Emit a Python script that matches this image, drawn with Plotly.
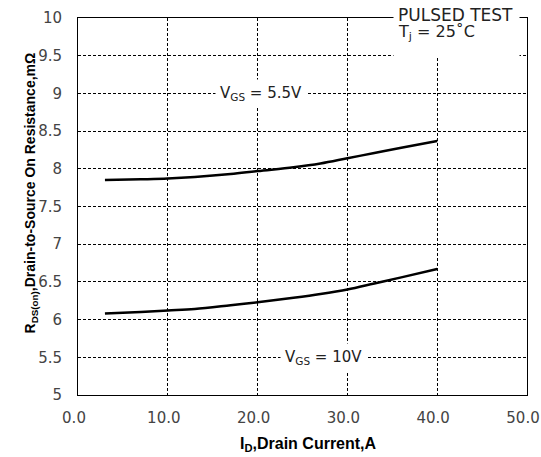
import plotly.graph_objects as go

# Data
id_55 = [3, 7, 10, 13, 17, 20, 24, 27, 30, 33, 36, 40]
r_55 = [7.85, 7.86, 7.87, 7.89, 7.93, 7.97, 8.02, 8.07, 8.14, 8.21, 8.28, 8.37]
id_10 = [3, 7, 10, 13, 17, 20, 24, 27, 30, 33, 36, 40]
r_10 = [6.08, 6.10, 6.12, 6.14, 6.19, 6.23, 6.29, 6.34, 6.40, 6.48, 6.56, 6.67]

x_ticks = [0, 10, 20, 30, 40, 50]
y_ticks = [5, 5.5, 6, 6.5, 7, 7.5, 8, 8.5, 9, 9.5, 10]

FONT = "DejaVu Sans, Verdana, sans-serif"
BOLD = "Liberation Sans, Arial, sans-serif"

fig = go.Figure()
for xs, ys in [(id_55, r_55), (id_10, r_10)]:
    fig.add_trace(go.Scatter(x=xs, y=ys, mode="lines",
                             line=dict(color="black", width=2.5, shape="spline"),
                             showlegend=False, hoverinfo="skip"))

fig.update_layout(
    width=541, height=457,
    margin=dict(l=78, r=14, t=18, b=62),
    paper_bgcolor="white", plot_bgcolor="white",
    font=dict(family=FONT, size=15, color="#333"),
)
axis_common = dict(showgrid=True, gridcolor="black", gridwidth=1, griddash="3px,2px",
                   showline=True, linecolor="black", linewidth=1, mirror=True,
                   ticks="outside", tickcolor="rgba(0,0,0,0)", zeroline=False,
                   automargin=False, ticklabeloverflow="allow",
                   tickfont=dict(family=FONT, size=15, color="#444"))
fig.update_xaxes(range=[0, 50], tickvals=x_ticks, tickformat=".1f", ticklen=9,
                 ticklabelshift=-4, **axis_common)
fig.update_yaxes(range=[5, 10], tickvals=y_ticks, ticklen=12, **axis_common)

ann = [
    dict(x=20.4, y=9.0, xref="x", yref="y", text="V<sub>GS</sub> = 5.5V",
         showarrow=False, bgcolor="white", font=dict(size=15, color="#222"),
         borderpad=4),
    dict(x=27.3, y=5.5, xref="x", yref="y", text="V<sub>GS</sub> = 10V",
         showarrow=False, bgcolor="white", font=dict(size=15, color="#222"),
         borderpad=4),
    # white box breaking the top border / grid behind the test-condition note
    dict(x=0.7016, y=1.0265, xref="paper", yref="paper", xanchor="left", yanchor="top",
         text=" ", showarrow=False, bgcolor="white", width=123, height=45),
    dict(x=0.708, y=1.008, xref="paper", yref="paper", xanchor="left", yanchor="middle",
         text="PULSED TEST", showarrow=False, font=dict(size=17, color="#222")),
    dict(x=0.708, y=0.962, xref="paper", yref="paper", xanchor="left", yanchor="middle",
         text="T<sub>j</sub> = 25\u02daC", showarrow=False, font=dict(size=16, color="#222")),
    dict(x=0.513, y=-0.13, xref="paper", yref="paper", yanchor="middle",
         text="<b>I<sub>D</sub>,Drain Current,A</b>", showarrow=False,
         font=dict(family=BOLD, size=16, color="black")),
    dict(x=-0.129, y=0.535, xref="paper", yref="paper", textangle=-90,
         text="<b>R<sub>DS(on)</sub>,Drain-to-Source On Resistance,m\u03a9</b>",
         showarrow=False,
         font=dict(family="Liberation Sans Narrow, Liberation Sans, Arial, sans-serif",
                   size=14, color="black")),
]
fig.update_layout(annotations=ann)

# remove the browser's default 8px body margin so the figure fills the window exactly
fig.write_html("out.html",
               config={"displayModeBar": False},
               post_script="document.body.style.margin='0';document.body.style.overflow='hidden';")
